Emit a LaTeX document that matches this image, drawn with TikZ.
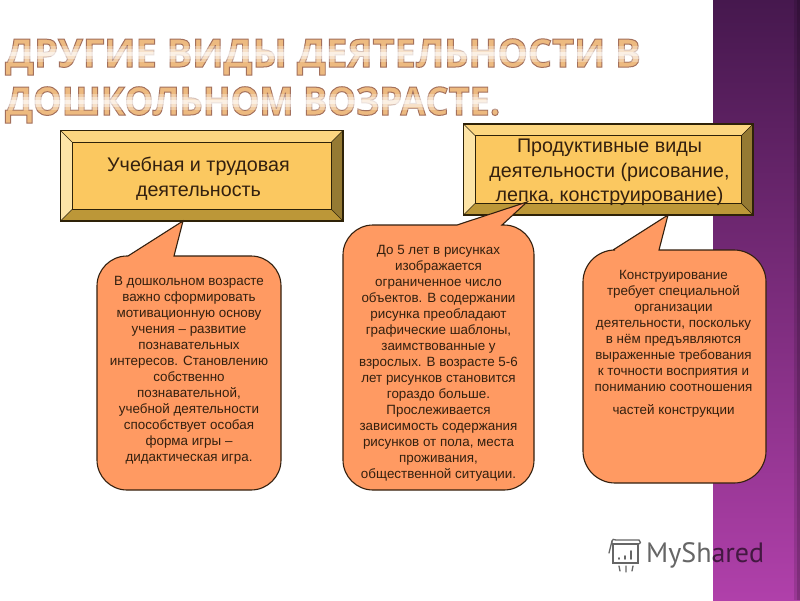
\documentclass[tikz,border=0pt]{standalone}
\usepackage{fontspec}
\setmainfont{Liberation Sans}
\newfontfamily\titlefont{Open Sans}
\newfontfamily\markfont{PT Sans}
\usetikzlibrary{calc}
\definecolor{inkc}{HTML}{33200F}
\definecolor{calloutc}{HTML}{FF9A62}
\definecolor{faceC}{HTML}{FBC860}
\definecolor{topC}{HTML}{FCD680}
\definecolor{leftC}{HTML}{FDE4A6}
\definecolor{rightC}{HTML}{957A33}
\definecolor{botC}{HTML}{BC9738}
\definecolor{edgeC}{HTML}{2E2208}
\definecolor{markC}{HTML}{666666}
\tikzset{
  x=1pt,y=-1pt,
  calloutshape/.style={draw=inkc,line width=1.1pt,fill=calloutc},
  calltext/.style={font=\fontsize{13.4}{16}\selectfont,text=inkc,align=center,anchor=north,inner sep=0pt},
  boxtext/.style={text=inkc,align=center,inner sep=0pt,anchor=north,font=\fontsize{19.7}{24.5}\selectfont},
  titletext/.style={anchor=base west,inner sep=0pt,font=\titlefont\bfseries\fontsize{39}{39}\selectfont,transform shape},
}
\newcommand{\bevelbox}[5]{%
  \fill[topC] (#1,#2)--(#3,#2)--(#3-#5,#2+#5)--(#1+#5,#2+#5)--cycle;
  \fill[leftC] (#1,#2)--(#1+#5,#2+#5)--(#1+#5,#4-#5)--(#1,#4)--cycle;
  \fill[rightC] (#3,#2)--(#3-#5,#2+#5)--(#3-#5,#4-#5)--(#3,#4)--cycle;
  \fill[botC] (#1,#4)--(#1+#5,#4-#5)--(#3-#5,#4-#5)--(#3,#4)--cycle;
  \fill[faceC] (#1+#5,#2+#5) rectangle (#3-#5,#4-#5);
  \draw[edgeC,line width=0.5pt] (#1,#2)--(#1+#5,#2+#5) (#3,#2)--(#3-#5,#2+#5) (#1,#4)--(#1+#5,#4-#5) (#3,#4)--(#3-#5,#4-#5);
  \draw[edgeC,line width=0.7pt] (#1+#5,#2+#5) rectangle (#3-#5,#4-#5);
  \draw[edgeC,line width=1.1pt] (#1,#2) rectangle (#3,#4);
}
% left, top, right, bottom, radius, base-left x, base-right x, tip x, tip y
\newcommand{\calloutpath}[9]{%
  \draw[calloutshape] (#6,#2) -- (#8,#9) -- (#7,#2) -- (#3-#5,#2)
    .. controls (#3-0.45*#5,#2) and (#3,#2+0.45*#5) .. (#3,#2+#5) -- (#3,#4-#5)
    .. controls (#3,#4-0.45*#5) and (#3-0.45*#5,#4) .. (#3-#5,#4) -- (#1+#5,#4)
    .. controls (#1+0.45*#5,#4) and (#1,#4-0.45*#5) .. (#1,#4-#5) -- (#1,#2+#5)
    .. controls (#1,#2+0.45*#5) and (#1+0.45*#5,#2) .. (#1+#5,#2) -- cycle;
}
\newcommand{\outlinedtitle}[1]{\special{pdf:code q 2 Tr 1.0 w 0.64 0.44 0.36 RG 0.93 0.73 0.50 rg}#1\special{pdf:code Q}}
\begin{document}
\begin{tikzpicture}
\useasboundingbox (0,0) rectangle (800,600);
\fill[white] (0,0) rectangle (800,600);
% purple band
\shade[shading=axis,shading angle=0,top color={rgb,255:red,70;green,24;blue,78},middle color={rgb,255:red,130;green,45;blue,130},bottom color={rgb,255:red,176;green,64;blue,170}] (713,0) rectangle (800,600);
\fill[black,opacity=.12] (794,0) rectangle (800,600);
\fill[black,opacity=.15] (797,0) rectangle (800,600);
% title
\node[titletext,xscale=.975] (t1) at (5,67) {\outlinedtitle{ДРУГИЕ ВИДЫ ДЕЯТЕЛЬНОСТИ В}};
\node[titletext,xscale=.93] (t2) at (5,115) {\outlinedtitle{ДОШКОЛЬНОМ ВОЗРАСТЕ.}};
% light sheen across the title letters
\fill[white,opacity=.3] (0,46) rectangle (660,62);
\fill[white,opacity=.4] (0,49) rectangle (660,59);
\fill[white,opacity=.5] (0,52) rectangle (660,56);
\fill[white,opacity=.3] (0,94) rectangle (520,110);
\fill[white,opacity=.4] (0,97) rectangle (520,107);
\fill[white,opacity=.5] (0,100) rectangle (520,104);
% boxes
\bevelbox{60.5}{130.5}{343}{221}{11.5}
\node[boxtext] (b1) at (198.5,157) {Учебная и трудовая\\деятельность};
\bevelbox{463.5}{124}{753}{215}{11.5}
\node[boxtext] (b2) at (609.5,139) {Продуктивные виды\\деятельности (рисование,\\лепка, конструирование)};
% callouts
\calloutpath{97}{256}{281}{490}{30}{128}{174}{183}{221}
\node[calltext] (c1) at (189,276.5) {В дошкольном возрасте\\важно сформировать\\мотивационную основу\\учения – развитие\\познавательных\\интересов. Становлению\\собственно\\познавательной,\\учебной деятельности\\способствует особая\\форма игры –\\дидактическая игра.};
\calloutpath{343}{225}{534}{490}{30}{457}{502}{527}{202}
\node[calltext] (c2) at (438.5,245) {До 5 лет в рисунках\\изображается\\ограниченное число\\объектов. В содержании\\рисунка преобладают\\графические шаблоны,\\заимствованные у\\взрослых. В возрасте 5-6\\лет рисунков становится\\гораздо больше.\\Прослеживается\\зависимость содержания\\рисунков от пола, места\\проживания,\\общественной ситуации.};
\calloutpath{583}{250}{766}{483}{32}{613}{659}{668}{215}
\node[calltext] (c3) at (673.5,270.5) {Конструирование\\требует специальной\\организации\\деятельности, поскольку\\в нём предъявляются\\выраженные требования\\к точности восприятия и\\пониманию соотношения};
\node[calltext] (c3b) at (673.5,404) {частей конструкции};
% watermark
\begin{scope}[blend mode=multiply]
\node[anchor=west,inner sep=0pt,text=markC,font=\markfont\fontsize{28}{28}\selectfont] (mark) at (646,555) {MyShared};
\end{scope}
\begin{scope}[draw=markC,line width=1.3pt,line cap=round]
\draw (613,544) rectangle (638,563);
\draw (612,544) -- (612,541) .. controls (612,538) and (614,540) .. (616,540) -- (639,540) .. controls (641,541) and (641,544) .. (638,544);
\draw (612,541) -- (609,553);
\draw (620,571) -- (619,566) (626,572) -- (626,566) (632,571) -- (633,566);
\draw[line width=1.8pt] (619,558) -- (619,559) (625,556) -- (625,559) (631,551) -- (631,559);
\end{scope}
\end{tikzpicture}
\end{document}
